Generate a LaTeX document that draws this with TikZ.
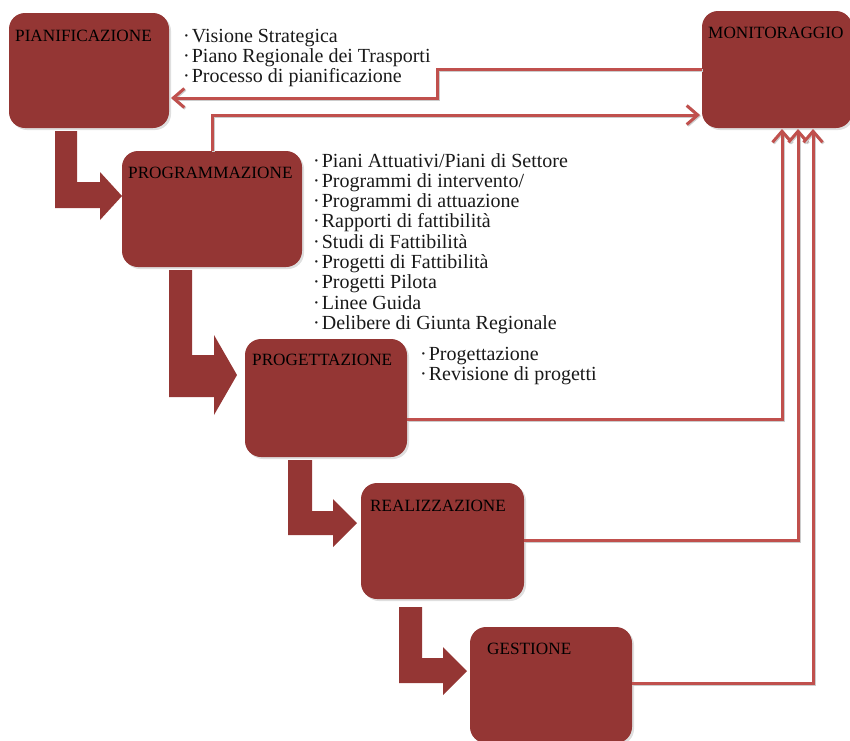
\documentclass[tikz,border=0pt]{standalone}
\usepackage{fontspec}
\setmainfont{Liberation Serif}
\usetikzlibrary{arrows.meta,shadows}
\definecolor{boxred}{HTML}{943634}
\definecolor{linered}{HTML}{C0504D}
\begin{document}
\begin{tikzpicture}[x=1pt,y=-1pt,
  stagebox/.style={fill=boxred, rounded corners=16pt, anchor=north west, inner sep=0pt, outer sep=0pt,
    drop shadow={shadow xshift=2pt, shadow yshift=-2pt, opacity=0.25}},
  stagelabel/.style={anchor=base west, inner sep=0pt, font=\fontsize{17.2}{20}\selectfont, text=black},
  itemtext/.style={anchor=base west, inner sep=0pt, font=\fontsize{20}{20.3}\selectfont, text=black!90},
  conn/.style={draw=linered, line width=3pt, line join=miter,
    preaction={draw=black!20, line width=3pt, transform canvas={shift={(1pt,-1pt)}}}},
  connarrow/.style={conn, -{Straight Barb[length=11pt,width=19pt]}},
  bigarrow/.style={fill=boxred}]
\useasboundingbox (0,0) rectangle (850,740);

% stage boxes
\node[stagebox, minimum width=160pt, minimum height=115pt] (pian) at (9,13) {};
\node[stagebox, minimum width=150pt, minimum height=117pt] (mon) at (702,11) {};
\node[stagebox, minimum width=180pt, minimum height=116pt] (prog) at (122,151) {};
\node[stagebox, minimum width=162pt, minimum height=118pt] (proget) at (245,339) {};
\node[stagebox, minimum width=163pt, minimum height=116pt] (real) at (361,483) {};
\node[stagebox, minimum width=162pt, minimum height=116pt] (gest) at (470,627) {};

% labels
\node[stagelabel] (pianL) at ([xshift=6pt,yshift=-28pt]pian.north west) {PIANIFICAZIONE};
\node[stagelabel] (monL) at ([xshift=6pt,yshift=-27pt]mon.north west) {MONITORAGGIO};
\node[stagelabel] (progL) at ([xshift=6pt,yshift=-27pt]prog.north west) {PROGRAMMAZIONE};
\node[stagelabel] (progetL) at ([xshift=7pt,yshift=-26pt]proget.north west) {PROGETTAZIONE};
\node[stagelabel] (realL) at ([xshift=9pt,yshift=-28pt]real.north west) {REALIZZAZIONE};
\node[stagelabel] (gestL) at ([xshift=17pt,yshift=-27pt]gest.north west) {GESTIONE};

% item lists
\foreach \t [count=\i from 0] in {Visione Strategica, Piano Regionale dei Trasporti, Processo di pianificazione}
  \node[itemtext] (a\i) at (183,42+20*\i) {·\hspace{2pt}\t};
\foreach \t [count=\i from 0] in {Piani Attuativi/Piani di Settore, Programmi di intervento/, Programmi di attuazione, Rapporti di fattibilità, Studi di Fattibilità, Progetti di Fattibilità, Progetti Pilota, Linee Guida, Delibere di Giunta Regionale}
  \node[itemtext] (b\i) at (313,167+20.3*\i) {·\hspace{2pt}\t};
\foreach \t [count=\i from 0] in {Progettazione, Revisione di progetti}
  \node[itemtext] (c\i) at (420,360+20.6*\i) {·\hspace{2pt}\t};

% thick L arrows
\fill[bigarrow] (55,131) -- (77,131) -- (77,182) -- (100,182) -- (100,172) -- (122,196) -- (100,220) -- (100,208) -- (55,208) -- cycle;
\fill[bigarrow] (169,270) -- (192,270) -- (192,355) -- (214,355) -- (214,335) -- (237,375) -- (214,415) -- (214,397) -- (169,397) -- cycle;
\fill[bigarrow] (288,460) -- (312,460) -- (312,511) -- (333,511) -- (333,499) -- (357,523) -- (333,547) -- (333,535) -- (288,535) -- cycle;
\fill[bigarrow] (399,607) -- (422,607) -- (422,658) -- (443,658) -- (443,647) -- (467,671) -- (443,695) -- (443,683) -- (399,683) -- cycle;

% connectors
\coordinate (j1) at (437,98);
\coordinate (j2) at (212,115);
\coordinate (j3) at (782,419);
\coordinate (j4) at (798,540);
\coordinate (j5) at (813,683);
\draw[connarrow] (mon.west) -| (j1) -- ([xshift=2pt]j1 -| pian.east);
\draw[connarrow] (prog.north -| j2) -- (j2) -- ([xshift=-2pt]j2 -| mon.west);
\draw[connarrow] (j3 -| proget.east) -- (j3) -- ([yshift=-1pt]j3 |- mon.south);
\draw[connarrow] (j4 -| real.east) -- (j4) -- ([yshift=-1pt]j4 |- mon.south);
\draw[connarrow] (j5 -| gest.east) -- (j5) -- ([yshift=-1pt]j5 |- mon.south);
\end{tikzpicture}
\end{document}
